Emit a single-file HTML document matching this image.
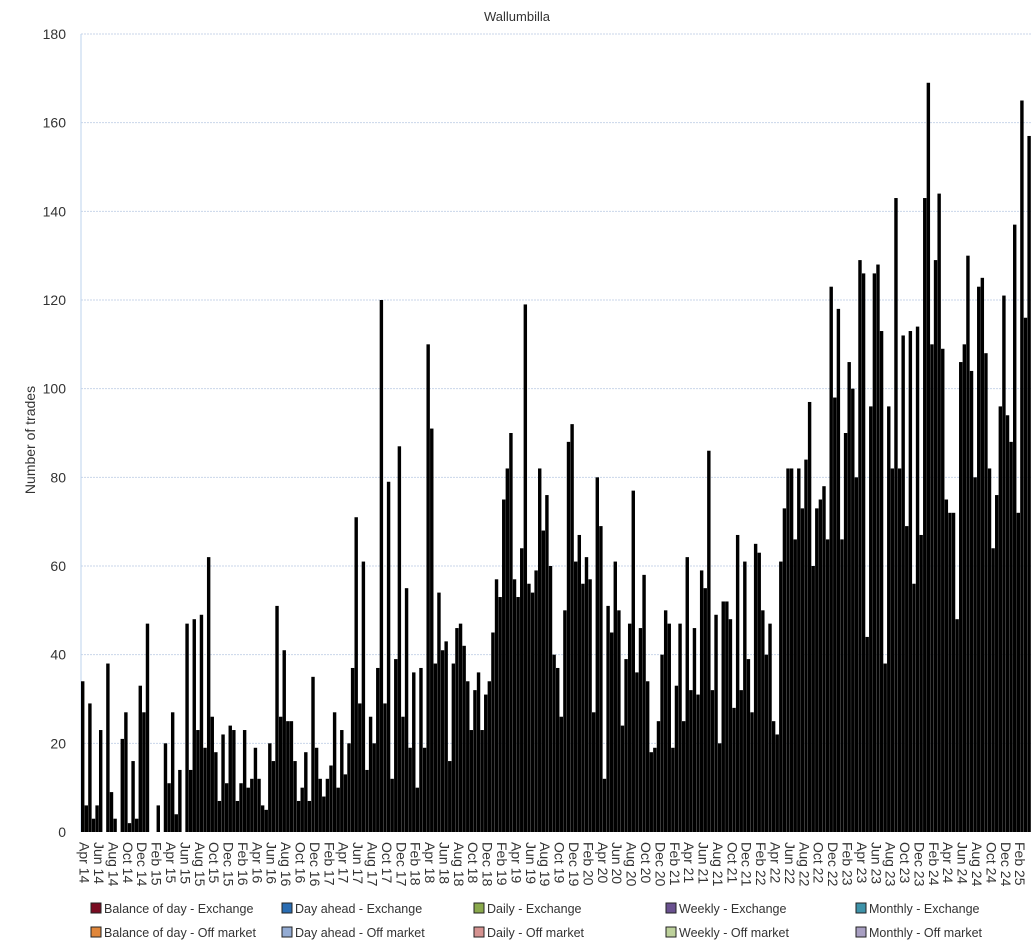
<!DOCTYPE html>
<html><head><meta charset="utf-8"><style>
body{margin:0;background:#fff;}
svg text{font-family:"Liberation Sans",sans-serif;}
</style></head><body>
<svg id="chart" width="1034" height="944" xmlns="http://www.w3.org/2000/svg">
<text x="517" y="21" text-anchor="middle" font-size="13" fill="#333">Wallumbilla</text>
<text transform="translate(35,440) rotate(-90)" text-anchor="middle" font-size="14" fill="#333">Number of trades</text>
<g id="grid"></g><g id="bars"></g><g id="xlabels"></g><g id="ylabels"></g>
<g id="legend"></g>
</svg>
<script>
const yTicks=[0,20,40,60,80,100,120,140,160,180];
const startYear=2014, startMonth=3;
const monthNames=["Jan","Feb","Mar","Apr","May","Jun","Jul","Aug","Sep","Oct","Nov","Dec"];
// number of trades per half-month, Apr 2014 – Mar 2025
const trades2014=[34,6,29,3,6,23,0,38,9,3,0,21,27,2,16,3,33,27];
const trades2015=[47,0,0,6,0,20,11,27,4,14,0,47,14,48,23,49,19,62,26,18,7,22,11,24];
const trades2016=[23,7,11,23,10,12,19,12,6,5,20,16,51,26,41,25,25,16,7,10,18,7,35,19];
const trades2017=[12,8,12,15,27,10,23,13,20,37,71,29,61,14,26,20,37,120,29,79,12,39,87,26];
const trades2018=[55,19,36,10,37,19,110,91,38,54,41,43,16,38,46,47,42,34,23,32,36,23,31,34];
const trades2019=[45,57,53,75,82,90,57,53,64,119,56,54,59,82,68,76,60,40,37,26,50,88,92,61];
const trades2020=[67,56,62,57,27,80,69,12,51,45,61,50,24,39,47,77,36,46,58,34,18,19,25,40];
const trades2021=[50,47,19,33,47,25,62,32,46,31,59,55,86,32,49,20,52,52,48,28,67,32,61,39];
const trades2022=[27,65,63,50,40,47,25,22,61,73,82,82,66,82,73,84,97,60,73,75,78,66,123,98];
const trades2023=[118,66,90,106,100,80,129,126,44,96,126,128,113,38,96,82,143,82,112,69,113,56,114,67];
const trades2024=[143,169,110,129,144,109,75,72,72,48,106,110,130,104,80,123,125,108,82,64,76,96,121,94];
const trades2025=[88,137,72,165,116,157];
const trades=[].concat(trades2014,trades2015,trades2016,trades2017,trades2018,trades2019,trades2020,trades2021,trades2022,trades2023,trades2024,trades2025);

const NS="http://www.w3.org/2000/svg";
const X0=81,X1=1031,Y0=832,Y1=34,YMAX=180;
const slot=(X1-X0)/trades.length;
const yScale=v=>Y0-(v/YMAX)*(Y0-Y1);
const xScale=i=>X0+i*slot;
function mk(tag,attrs,parent){const e=document.createElementNS(NS,tag);for(const k in attrs)e.setAttribute(k,attrs[k]);parent.appendChild(e);return e;}
const grid=document.getElementById('grid'),ylab=document.getElementById('ylabels');
yTicks.forEach(t=>{
  if(t>0){const l=mk('line',{x1:X0,x2:1032,y1:yScale(t),y2:yScale(t),stroke:'#c9d6ea','stroke-width':1,'stroke-dasharray':'2,1'},grid);
  
  }
  const tx=mk('text',{x:66,y:yScale(t)+5,'text-anchor':'end','font-size':14,fill:'#333'},ylab);
  tx.textContent=t;
  
  
});
const ax=mk('line',{x1:X0,x2:X0,y1:Y1,y2:Y0,stroke:'#bcd3ee','stroke-width':1},grid);


const bars=document.getElementById('bars');
trades.forEach((v,i)=>{
  const y=yScale(v);
  const r=mk('rect',{x:xScale(i),y:y,width:slot*0.95,height:Y0-y,fill:'#000'},bars);
  
  
});
const xl=document.getElementById('xlabels');
const nMonths=trades.length/2;
for(let m=0;m<nMonths;m+=2){
  const mi=(startMonth+m)%12, yr=startYear+Math.floor((startMonth+m)/12);
  const x=xScale(m*2)+slot;
  const t=mk('text',{transform:`translate(${x-5},${Y0+10}) rotate(90)`,'font-size':14,fill:'#333'},xl);
  t.textContent=monthNames[mi]+' '+String(yr%100).padStart(2,'0');
  
  
}
const legendNames=["Balance of day - Exchange","Day ahead - Exchange","Daily - Exchange","Weekly - Exchange","Monthly - Exchange","Balance of day - Off market","Day ahead - Off market","Daily - Off market","Weekly - Off market","Monthly - Off market"];
const legendColors=["#7a0c22","#2a6db3","#8aa94c","#6a5190","#3e93a9","#e0863a","#93abd3","#d59290","#bdd19b","#a89fc2"];
const lg=document.getElementById('legend');
const colX=[87,278,470,662,852];
legendNames.forEach((n,i)=>{
  const c=i%5,r=Math.floor(i/5);
  const g=mk('g',{},lg);
  
  
  mk('rect',{x:colX[c]+4,y:903+r*24,width:10,height:10,fill:legendColors[i],stroke:'#222','stroke-width':1},g);
  const t=mk('text',{x:colX[c]+17,y:913+r*24,'font-size':12.5,fill:'#333'},g);
  t.textContent=n;
});
</script>
</body></html>
